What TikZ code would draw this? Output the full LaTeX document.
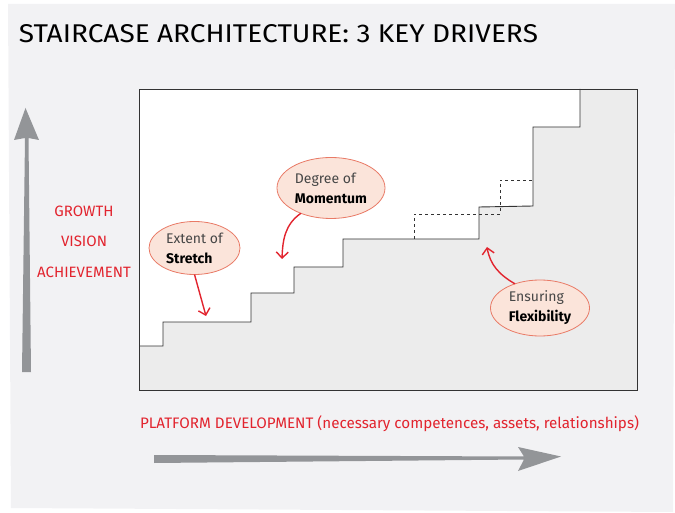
\documentclass[tikz,border=0pt]{standalone}
\usepackage{fontspec}
\setmainfont{Fira Sans}
\usepackage{graphicx}
\usetikzlibrary{shapes.geometric,arrows.meta}
\definecolor{paper}{RGB}{242,242,244}
\definecolor{stairgray}{RGB}{236,236,236}
\definecolor{bubblefill}{RGB}{251,228,218}
\definecolor{bubbleline}{RGB}{233,122,102}
\definecolor{labelred}{RGB}{226,36,46}
\definecolor{axisgray}{RGB}{147,149,152}
\definecolor{softtext}{RGB}{70,70,70}

\begin{document}
\begin{tikzpicture}[x=1pt, y=-1pt,
  every node/.style = {inner sep=0pt, outer sep=0pt},
  bubble/.style = {ellipse, draw=bubbleline, fill=bubblefill, line width=0.8pt,
    align=left, font=\fontsize{14}{20}\selectfont},
  axislabel/.style = {text=labelred, font=\fontsize{15}{18}\selectfont},
  pointer/.style = {draw=labelred, line width=1.4pt,
    -{Straight Barb[length=6pt,width=12pt]}},
  stairline/.style = {line width=0.9pt, draw=black!80}]

  \useasboundingbox (0,0) rectangle (675,513);
  \fill[paper] (8,4) -- (675,4) -- (673,512) -- (11,508) -- cycle;

  \node[anchor=north west] (title) at (19,25)
    {\resizebox{519pt}{18pt}{STAIRCASE ARCHITECTURE: 3 KEY DRIVERS}};

  % chart area and staircase
  \fill[white] (139,89) rectangle (637,390);
  \fill[stairgray] (139,346) -- (163,346) -- (163,322) -- (251,322) -- (251,293)
    -- (294,293) -- (294,267) -- (343,267) -- (343,239) -- (479,239) -- (479,207)
    -- (533,206) -- (533,127) -- (580,127) -- (580,89) -- (637,89) -- (637,390)
    -- (139,390) -- cycle;
  \draw[stairline] (139,346) -- (163,346) -- (163,322) -- (251,322) -- (251,293)
    -- (294,293) -- (294,267) -- (343,267) -- (343,239) -- (479,239) -- (479,207)
    -- (533,206) -- (533,127) -- (580,127) -- (580,89);
  \draw[stairline, dashed] (414,239) -- (414,214) -- (500,214) -- (500,180) -- (533,180);
  \draw[stairline] (139,89) rectangle (637,390);

  % axes
  \fill[axisgray] (22,372) -- (31,372) -- (28.5,138) -- (39,140) -- (25.5,108)
    -- (14,140) -- (25,138) -- cycle;
  \fill[axisgray] (154,455) -- (524,456.5) -- (518,447) -- (561,456.5) -- (518,471)
    -- (524,459.5) -- (154,463) -- cycle;

  \node[axislabel] (growth) at (84,211) {GROWTH};
  \node[axislabel] (vision) at (84,241) {VISION};
  \node[axislabel] (achieve) at (84,272) {ACHIEVEMENT};
  \node[axislabel, anchor=base west] (platform) at (140,428)
    {\resizebox{499pt}{!}{PLATFORM DEVELOPMENT (necessary competences, assets, relationships)}};

  % drivers
  \node[bubble, minimum width=91pt, minimum height=53pt] (stretch) at (194.5,248)
    {\textcolor{softtext}{Extent of}\\\textbf{Stretch}};
  \node[bubble, minimum width=108pt, minimum height=61pt] (momentum) at (331,188)
    {\textcolor{softtext}{Degree of}\\\textbf{Momentum}};
  \node[bubble, minimum width=99pt, minimum height=56pt] (flex) at (540,308)
    {\textcolor{softtext}{Ensuring}\\\textbf{Flexibility}};

  \coordinate (stretchtip) at (206,316);
  \coordinate (momtip) at (282,259);
  \coordinate (flextip) at (487,247);
  \draw[pointer] (stretch.south) -- (stretchtip);
  \draw[pointer] (momentum.220) to[out=215, in=88] (momtip);
  \draw[pointer] (flex.136) to[out=150, in=-80] (flextip);
\end{tikzpicture}
\end{document}
